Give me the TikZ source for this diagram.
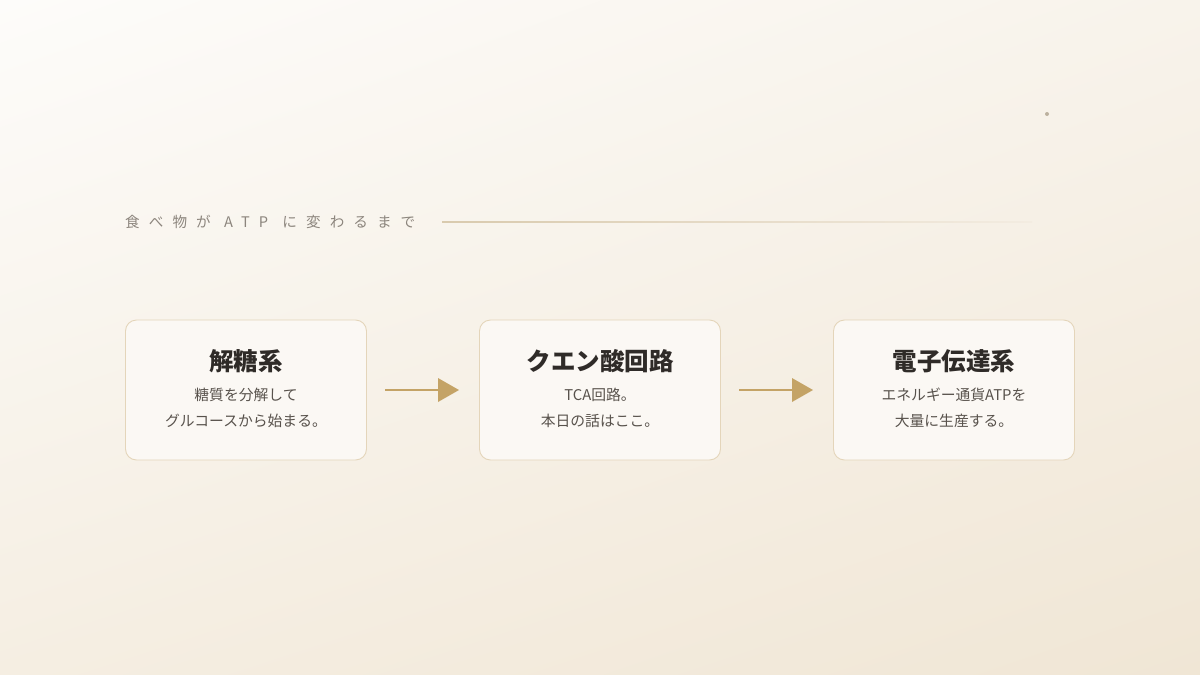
\documentclass[tikz,border=0pt]{standalone}
\usepackage{fontspec}
\newfontfamily\jp{Noto Sans CJK JP}
\newfontfamily\jpsp[LetterSpace=62]{Noto Sans CJK JP}
\usetikzlibrary{shadings}
\definecolor{bgTL}{HTML}{FDFCFA}
\definecolor{bgTR}{HTML}{F8F3EB}
\definecolor{bgBL}{HTML}{F5EEE2}
\definecolor{bgBR}{HTML}{F0E6D5}
\definecolor{boxfill}{HTML}{FBF8F4}
\definecolor{boxline}{HTML}{E4D5BA}
\definecolor{titlec}{HTML}{2F2B28}
\definecolor{subc}{HTML}{58524C}
\definecolor{headc}{HTML}{8C857D}
\definecolor{gold}{HTML}{C4A366}
\definecolor{rulec}{HTML}{D9CAAE}
\definecolor{ruleend}{HTML}{F3ECE1}
\tikzset{
  stagebox/.style={draw=boxline, line width=0.9pt, fill=boxfill, rounded corners=11pt,
    minimum width=241pt, minimum height=140pt, inner sep=0pt},
  titletext/.style={font=\jp\bfseries\fontsize{24.5}{28}\selectfont, text=titlec},
  subtext/.style={font=\jp\fontsize{14.8}{26}\selectfont, text=subc, align=center},
  flow/.style={draw=gold, line width=1.3pt},
  tip/.style={fill=gold, draw=none}
}
\begin{document}
\begin{tikzpicture}[x=1pt,y=-1pt]
\useasboundingbox (0,0) rectangle (1200,675);
\shade[upper left=bgTL, upper right=bgTR, lower left=bgBL, lower right=bgBR] (0,0) rectangle (1200,675);
% header
\node[anchor=west, inner sep=0pt, font=\jpsp\fontsize{14.6}{18}\selectfont, text=headc] (head) at (125,222) {食べ物が\hspace{1pt} ATP\hspace{2pt} に変わるまで};
\coordinate (ruleA) at (442,221.5);
\coordinate (ruleB) at (1032,222.5);
\shade[left color=rulec, middle color=rulec!85!ruleend, right color=ruleend] (ruleA) rectangle (ruleB);
\node[circle, fill=headc!45!boxline, inner sep=0pt, minimum size=4pt] (dot) at (1047,114) {};
% boxes
\node[stagebox] (b1) at (246,390) {};
\node[stagebox] (b2) at (600,390) {};
\node[stagebox] (b3) at (954,390) {};
\node[titletext] (t1) at (246,361) {解糖系};
\node[titletext] (t2) at (600,361) {クエン酸回路};
\node[titletext] (t3) at (954,361) {電子伝達系};
\node[subtext] (s1) at (246,408) {糖質を分解して\\グルコースから始まる。};
\node[subtext] (s2) at (600,408) {TCA回路。\\本日の話はここ。};
\node[subtext] (s3) at (954,408) {エネルギー通貨ATPを\\大量に生産する。};
% arrows
\coordinate (a1s) at (385,390);
\coordinate (a1e) at (440,390);
\coordinate (a2s) at (739,390);
\coordinate (a2e) at (794,390);
\draw[flow] (a1s) -- (a1e);
\fill[tip] (438,378) -- (459,390) -- (438,402) -- cycle;
\draw[flow] (a2s) -- (a2e);
\fill[tip] (792,378) -- (813,390) -- (792,402) -- cycle;
\end{tikzpicture}
\end{document}
